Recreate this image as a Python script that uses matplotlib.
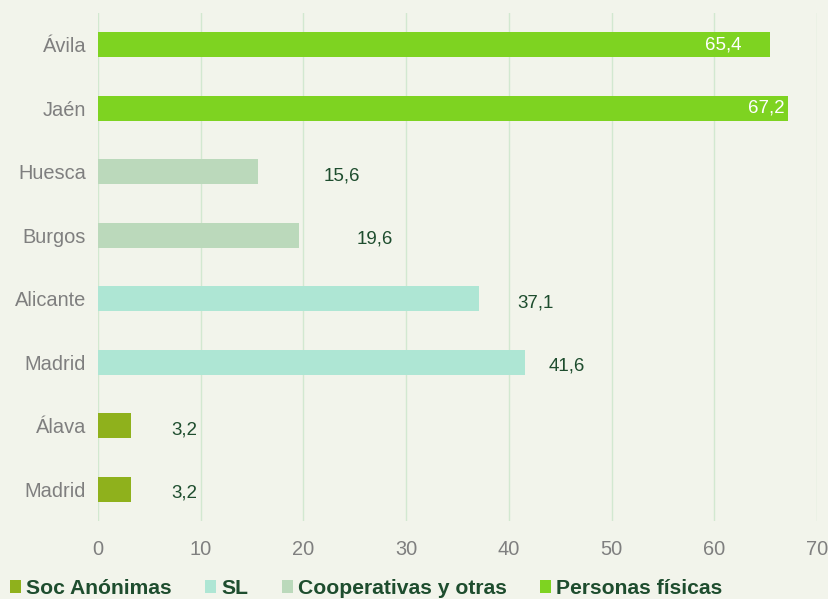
import matplotlib
matplotlib.use("Agg")
import matplotlib.pyplot as plt
from matplotlib.patches import Patch

# ---- data ----
categories = ["Ávila", "Jaén", "Huesca", "Burgos", "Alicante", "Madrid", "Álava", "Madrid"]
values = [65.4, 67.2, 15.6, 19.6, 37.1, 41.6, 3.2, 3.2]
groups = ["Personas físicas", "Personas físicas", "Cooperativas y otras", "Cooperativas y otras",
          "SL", "SL", "Soc Anónimas", "Soc Anónimas"]
legend_order = ["Soc Anónimas", "SL", "Cooperativas y otras", "Personas físicas"]
xticks = [0, 10, 20, 30, 40, 50, 60, 70]

# ---- styles ----
colors = {
    "Soc Anónimas": "#8FB11C",
    "SL": "#AEE6D4",
    "Cooperativas y otras": "#BBD9BB",
    "Personas físicas": "#7ED321",
}
bg = "#F2F4EB"
grid_c = "#D2E8D0"
label_c = "#1E4D2E"
tick_c = "#7F7F7F"
inside = [True, True, False, False, False, False, False, False]
# label offsets (pixels) from bar end
offsets_px = [-28, -4, 65, 57, 38, 23, 40, 40]

plt.rcParams["font.family"] = ["Liberation Sans", "DejaVu Sans"]

fig = plt.figure(figsize=(8.29, 5.99), dpi=100, facecolor=bg)
W, H = 829, 599
ax = fig.add_axes([98 / W, 1 - 521 / H, (817 - 98) / W, (521 - 13) / H])
ax.set_facecolor(bg)

ypos = list(range(len(categories)))
bar_colors = [colors[g] for g in groups]
bars = ax.barh(ypos, values, height=0.4, color=bar_colors, zorder=3)

ax.set_xlim(0, 70)
ax.set_ylim(len(categories) - 0.5, -0.5)
ax.set_xticks(xticks)
ax.set_xticklabels([str(t) for t in xticks])
ax.set_yticks(ypos)
ax.set_yticklabels(categories)
ax.tick_params(axis="both", length=0, labelsize=14.4, colors=tick_c)
ax.tick_params(axis="x", pad=14)
ax.tick_params(axis="y", pad=8.6)
ax.grid(axis="x", color=grid_c, linewidth=1, zorder=0)
ax.grid(axis="y", visible=False)
for s in ax.spines.values():
    s.set_visible(False)

for i, (v, ins, off) in enumerate(zip(values, inside, offsets_px)):
    txt = f"{v:.1f}".replace(".", ",")
    if ins:
        ax.annotate(txt, (v, i), xytext=(off * 0.72, 0), textcoords="offset points",
                    ha="right", va="center", color="white", fontsize=13.5, zorder=4)
    else:
        ax.annotate(txt, (v, i), xytext=(off * 0.72, -3), textcoords="offset points",
                    ha="left", va="center", color=label_c, fontsize=13.5, zorder=4)

handles = [Patch(facecolor=colors[g], edgecolor="none") for g in legend_order]
fig.legend(handles, legend_order, loc="lower left", bbox_to_anchor=(8 / W, -1 / H),
           ncol=4, frameon=False, handlelength=0.52, handleheight=0.55,
           handletextpad=0.24, columnspacing=1.58, borderpad=0.1, borderaxespad=0,
           prop={"family": "Liberation Sans", "weight": "bold", "size": 15.2},
           labelcolor=label_c)

fig.savefig("out.png", dpi=100, facecolor=bg)
